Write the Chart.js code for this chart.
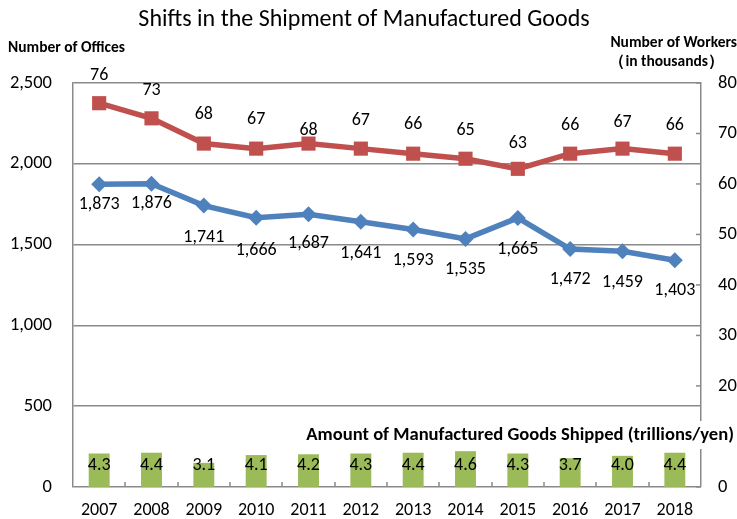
<!DOCTYPE html>
<html>
<head>
<meta charset="utf-8">
<script src="https://cdn.jsdelivr.net/npm/chart.js@4"></script>
<style>
  html, body { margin: 0; padding: 0; background: #fff; }
  #wrap { width: 737px; height: 519px; position: relative; }
</style>
</head>
<body>
<div id="wrap"><canvas id="shipChart"></canvas></div>
<script>
// Chart data
const years = ["2007", "2008", "2009", "2010", "2011", "2012", "2013", "2014", "2015", "2016", "2017", "2018"];
const offices = [1873, 1876, 1741, 1666, 1687, 1641, 1593, 1535, 1665, 1472, 1459, 1403];
const workers = [76, 73, 68, 67, 68, 67, 66, 65, 63, 66, 67, 66];
const shipped = [4.3, 4.4, 3.1, 4.1, 4.2, 4.3, 4.4, 4.6, 4.3, 3.7, 4.0, 4.4];
const officeTicks = [0, 500, 1000, 1500, 2000, 2500];
const workerTicks = [0, 20, 30, 40, 50, 60, 70, 80];

// how far each value label sits from its point (px)
const workerLabelNudge = [-28, -28, -29, -29, -13, -28, -29, -28, -25, -28, -26, -28];
const officeLabelNudge = [20, 20, 32, 33, 29, 32, 31, 31, 32, 30, 31, 30];

const FONT = "Carlito, Lato, 'Liberation Sans', sans-serif";
const gridColor = "#8a8a8a";

const labelPlugin = {
    id: "labelPlugin",
    afterDatasetsDraw(chart) {
        const ctx = chart.ctx;
        const area = chart.chartArea;
        const x = chart.scales.x;
        const yR = chart.scales.y1;
        ctx.save();

        // short inward tick marks
        ctx.strokeStyle = gridColor;
        ctx.lineWidth = 1.5;
        for (let i = 1; i < years.length; i++) {
            const px = Math.round((x.getPixelForValue(i - 1) + x.getPixelForValue(i)) / 2);
            ctx.beginPath();
            ctx.moveTo(px, area.bottom);
            ctx.lineTo(px, area.bottom - 5);
            ctx.stroke();
        }
        workerTicks.forEach(v => {
            const py = yR.getPixelForValue(v);
            ctx.beginPath();
            ctx.moveTo(area.right, py);
            ctx.lineTo(area.right - 5, py);
            ctx.stroke();
        });

        ctx.fillStyle = "#000";
        ctx.textAlign = "center";
        ctx.textBaseline = "middle";
        ctx.font = "18px " + FONT;

        const barMeta = chart.getDatasetMeta(2);
        barMeta.data.forEach((bar, i) => {
            ctx.fillText(shipped[i].toFixed(1), bar.x, area.bottom - 21);
        });

        const workerMeta = chart.getDatasetMeta(0);
        workerMeta.data.forEach((pt, i) => {
            ctx.fillText(String(workers[i]), pt.x, pt.y + workerLabelNudge[i]);
        });

        const officeMeta = chart.getDatasetMeta(1);
        officeMeta.data.forEach((pt, i) => {
            ctx.fillText(offices[i].toLocaleString("en-US"), pt.x, pt.y + officeLabelNudge[i]);
        });
        ctx.restore();
    },
    afterDraw(chart) {
        const ctx = chart.ctx;
        ctx.save();
        ctx.fillStyle = "#000";
        ctx.textBaseline = "middle";

        ctx.font = "24px " + FONT;
        ctx.textAlign = "center";
        ctx.fillText("Shifts in the Shipment of Manufactured Goods", 364, 20);

        ctx.font = "bold 15.5px " + FONT;
        ctx.textAlign = "left";
        ctx.fillText("Number of Offices", 8, 48);
        ctx.textAlign = "right";
        ctx.fillText("Number of Workers", 737, 43);
        ctx.fillText("\uFF08in thousands\uFF09", 724, 62);

        // bar series caption, with a white box behind it
        ctx.font = "bold 18.6px " + FONT;
        const cap = "Amount of Manufactured Goods Shipped (trillions/yen)";
        const w = ctx.measureText(cap).width;
        ctx.fillStyle = "#fff";
        ctx.fillRect(734 - w - 3, 421, w + 6, 28);
        ctx.fillStyle = "#000";
        ctx.fillText(cap, 734, 435);
        ctx.restore();
    }
};

const ctx = document.getElementById("shipChart").getContext("2d");
const myChart = new Chart(ctx, {
    type: "bar",
    data: {
        labels: years,
        datasets: [
            {
                type: "line",
                label: "Number of Workers",
                data: workers,
                yAxisID: "y1",
                borderColor: "#C0504D",
                backgroundColor: "#C0504D",
                borderWidth: 5.5,
                pointStyle: "rect",
                pointRadius: 10,
                pointBorderWidth: 0,
                order: 0,
            },
            {
                type: "line",
                label: "Number of Offices",
                data: offices,
                yAxisID: "y",
                borderColor: "#4F81BD",
                backgroundColor: "#4F81BD",
                borderWidth: 5.5,
                pointStyle: "rectRot",
                pointRadius: 8,
                pointBorderWidth: 0,
                order: 1,
            },
            {
                type: "bar",
                label: "Amount of Manufactured Goods Shipped",
                data: shipped,
                yAxisID: "y2",
                backgroundColor: "#9BBB59",
                barPercentage: 0.4,
                categoryPercentage: 1,
                order: 2,
            },
        ],
    },
    options: {
        responsive: true,
        maintainAspectRatio: false,
        animation: false,
        layout: { padding: { top: 83, left: 0, right: 0, bottom: 0 } },
        plugins: {
            legend: { display: false },
            tooltip: { enabled: false },
        },
        scales: {
            x: {
                offset: true,
                grid: { display: false, drawTicks: false },
                border: { display: false },
                ticks: { color: "#000", font: { size: 18, family: FONT }, padding: 13, maxRotation: 0 },
                afterFit(scale) { scale.height = 32; },
            },
            y: {
                position: "left",
                min: 0,
                max: 2500,
                afterBuildTicks(scale) { scale.ticks = officeTicks.map(v => ({ value: v })); },
                grid: { color: gridColor, lineWidth: 1.5, drawTicks: false },
                border: { display: true, color: gridColor, width: 1.5 },
                ticks: {
                    color: "#000",
                    font: { size: 18.5, family: FONT },
                    padding: 21,
                    callback: v => v.toLocaleString("en-US"),
                },
                afterFit(scale) { scale.width = 73; },
            },
            y1: {
                position: "right",
                min: 0,
                max: 80,
                afterBuildTicks(scale) { scale.ticks = workerTicks.map(v => ({ value: v })); },
                grid: { drawOnChartArea: false, drawTicks: false },
                border: { display: true, color: gridColor, width: 1.5 },
                ticks: { color: "#000", font: { size: 18.5, family: FONT }, padding: 17 },
                afterFit(scale) { scale.width = 36; },
            },
            y2: {
                display: false,
                min: 0,
                max: 52,
            },
        },
    },
    plugins: [labelPlugin],
});
</script>
</body>
</html>
